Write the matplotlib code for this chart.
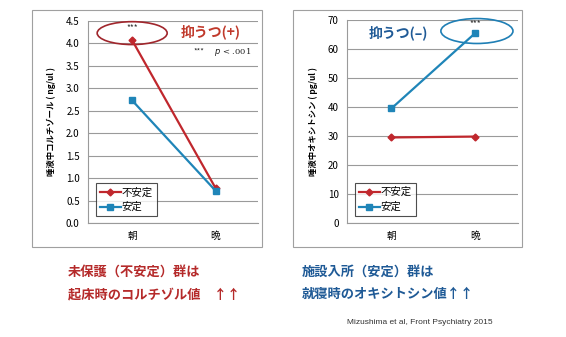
import matplotlib
matplotlib.use('Agg')
import matplotlib.pyplot as plt
from matplotlib.patches import Ellipse, Rectangle
from matplotlib.ticker import FormatStrFormatter

plt.rcParams['font.family'] = ['Noto Sans CJK JP', 'DejaVu Sans']

times = ['朝', '晩']
groups = ['不安定', '安定']
cortisol = {'不安定': [4.07, 0.78], '安定': [2.73, 0.72]}
oxytocin = {'不安定': [29.5, 29.8], '安定': [39.5, 65.5]}

RED = '#c0272d'
BLUE = '#1f85b8'
styles = {'不安定': dict(color=RED, marker='D', markersize=3.5),
          '安定': dict(color=BLUE, marker='s', markersize=5)}


def panel(fig, rect, data, ylim, step, fmt, ylabel):
	ax = fig.add_axes(rect)
	x = range(len(times))
	for g in groups:
		ax.plot(x, data[g], lw=1.6, label=g, **styles[g])
	ax.set_xlim(-0.53, 1.51)
	ax.set_ylim(*ylim)
	ax.set_xticks(list(x))
	ax.set_xticklabels(times, fontsize=7)
	ticks = [i * step for i in range(int(round(ylim[1] / step)) + 1)]
	ax.set_yticks(ticks)
	ax.yaxis.set_major_formatter(FormatStrFormatter(fmt))
	ax.tick_params(axis='y', labelsize=7, length=0, pad=6)
	ax.tick_params(axis='x', length=0, pad=6)
	ax.grid(axis='y', color='#9a9a9a', lw=0.8)
	ax.set_axisbelow(True)
	for s in ['top', 'right']:
		ax.spines[s].set_visible(False)
	for s in ['left', 'bottom']:
		ax.spines[s].set_color('#9a9a9a')
		ax.spines[s].set_linewidth(0.8)
	ax.set_ylabel(ylabel, fontsize=6, labelpad=7, fontweight='bold')
	leg = ax.legend(loc='lower left', bbox_to_anchor=(0.03, 0.02), fontsize=7.5,
		frameon=True, fancybox=False, edgecolor='#222222', handlelength=2.0,
		borderpad=0.35, labelspacing=0.45, handletextpad=0.1, borderaxespad=0.3)
	leg.get_frame().set_linewidth(0.8)
	return ax


def main():
	fig = plt.figure(figsize=(5.66, 3.37), dpi=100)
	W, H = 566.0, 337.0

	# outer frames
	for x0, x1 in [(32, 262), (293, 522)]:
		fig.patches.append(Rectangle((x0 / W, 1 - 247 / H), (x1 - x0) / W, 237 / H,
			transform=fig.transFigure, fill=False, ec='#a0a0a0', lw=0.8))

	ax1 = panel(fig, [88 / W, 1 - 223 / H, 170 / W, 202 / H], cortisol, (0, 4.5), 0.5,
		'%.1f', '唾液中コルチゾール ( ng/ul )')
	ax2 = panel(fig, [347 / W, 1 - 223 / H, 171 / W, 203 / H], oxytocin, (0, 70), 10,
		'%d', '唾液中オキシトシン ( pg/ul )')

	ax1.add_patch(Ellipse((0, 4.23), 0.84, 0.51, fill=False, ec='#a0262c', lw=1.2, clip_on=False))
	ax1.text(0, 4.36, '***', ha='center', va='center', fontsize=6, color='#333333')
	ax1.text(0.58, 4.25, '抑うつ(+)', ha='left', va='center', fontsize=10,
		color='#c0392b', fontweight='bold')
	ax1.text(0.74, 3.82, '***', ha='left', va='center', fontsize=5.5, color='#222222')
	ax1.text(0.98, 3.82, r'$p$ < .001', ha='left', va='center', fontsize=6,
		color='#222222', family='DejaVu Serif')

	ax2.add_patch(Ellipse((1.02, 66.2), 0.86, 8.6, fill=False, ec='#1f7fb5', lw=1.2, clip_on=False))
	ax2.text(1.0, 68.6, '***', ha='center', va='center', fontsize=6, color='#333333')
	ax2.text(-0.27, 65.6, '抑うつ(–)', ha='left', va='center', fontsize=10,
		color='#1f5a96', fontweight='bold')

	fig.text(68 / W, 1 - 272 / H, '未保護（不安定）群は', fontsize=9.5, color='#b52a2a',
		va='center', fontweight='bold')
	fig.text(68 / W, 1 - 294 / H, '起床時のコルチゾル値　↑↑', fontsize=9.5, color='#b52a2a',
		va='center', fontweight='bold')
	fig.text(302 / W, 1 - 272 / H, '施設入所（安定）群は', fontsize=9.5, color='#1f5a96',
		va='center', fontweight='bold')
	fig.text(302 / W, 1 - 294 / H, '就寝時のオキシトシン値↑↑', fontsize=9.5, color='#1f5a96',
		va='center', fontweight='bold')
	fig.text(493 / W, 1 - 323 / H, 'Mizushima et al, Front Psychiatry 2015', fontsize=6,
		color='#333333', ha='right', va='center', family='Liberation Sans')

	fig.savefig('out.png', dpi=100)


if __name__ == '__main__':
	main()
